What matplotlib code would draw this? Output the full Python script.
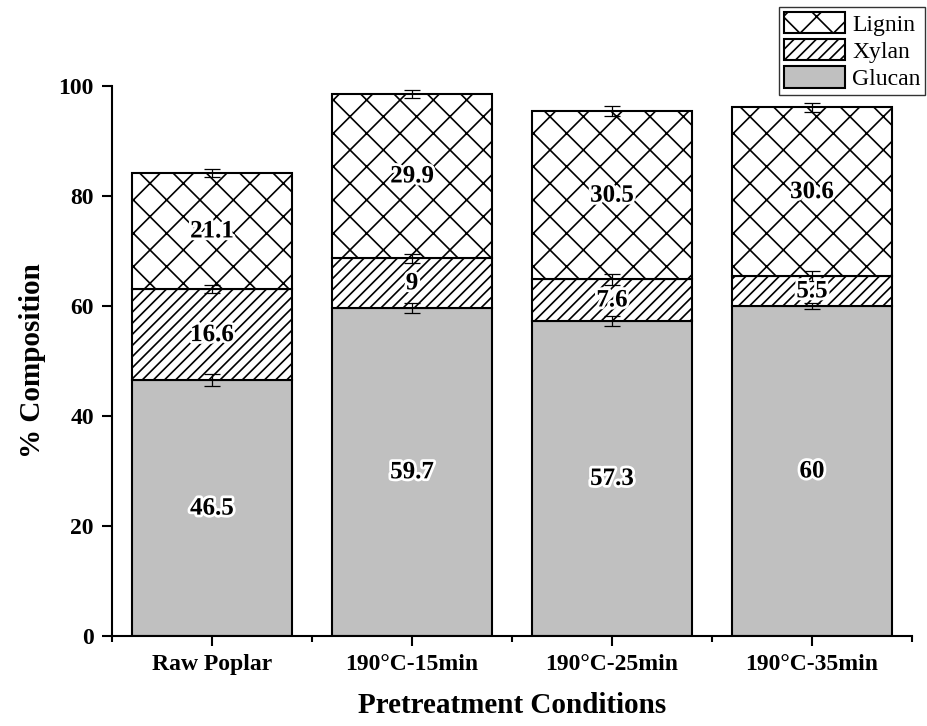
import numpy as np
import matplotlib
matplotlib.use("Agg")
import matplotlib.pyplot as plt
import matplotlib.patheffects as pe
from matplotlib.ticker import FixedLocator

plt.rcParams['font.family'] = ['Liberation Serif', 'DejaVu Serif']
plt.rcParams['hatch.linewidth'] = 1.2

# data
conditions = ['Raw Poplar', '190°C-15min', '190°C-25min', '190°C-35min']
glucan = [46.5, 59.7, 57.3, 60]
xylan = [16.6, 9, 7.6, 5.5]
lignin = [21.1, 29.9, 30.5, 30.6]
glucan_err = [1.1, 0.9, 0.9, 0.6]
xylan_err = [0.8, 0.8, 1.0, 0.9]
lignin_err = [0.7, 0.7, 0.9, 0.9]

x = np.arange(1, len(conditions) + 1)
glucan = np.array(glucan)
xylan = np.array(xylan)
lignin = np.array(lignin)

fig = plt.figure(figsize=(9.27, 7.26), dpi=100)
ax = fig.add_axes([0.1208, 0.124, 0.863, 0.7575])

w = 0.8
b1 = ax.bar(x, glucan, w, color='#c0c0c0', edgecolor='black', linewidth=1.5, label='Glucan')
b2 = ax.bar(x, xylan, w, bottom=glucan, color='white', edgecolor='black', linewidth=1.5,
            hatch='///', label='Xylan')
b3 = ax.bar(x, lignin, w, bottom=glucan + xylan, color='white', edgecolor='black', linewidth=1.5,
            hatch='x', label='Lignin')

# error bars at segment tops
for tops, err in [(glucan, glucan_err), (glucan + xylan, xylan_err), (glucan + xylan + lignin, lignin_err)]:
    ax.errorbar(x, tops, yerr=err, fmt='none', ecolor='black', elinewidth=0.9,
                capsize=6, capthick=0.9, clip_on=False, zorder=4)

# segment labels
halo = [pe.withStroke(linewidth=4, foreground='white')]
for bottoms, vals in [(np.zeros(4), glucan), (glucan, xylan), (glucan + xylan, lignin)]:
    for xi, b, v in zip(x, bottoms, vals):
        ax.text(xi, b + v / 2, f'{v:g}', ha='center', va='center', fontsize=18,
                fontweight='bold', path_effects=halo, zorder=5)

ax.set_xlim(0.5, 4.5)
ax.set_ylim(0, 100)
ax.set_xticks(x)
ax.set_xticklabels(conditions, fontsize=17, fontweight='bold')
ax.xaxis.set_minor_locator(FixedLocator(np.arange(0.5, 4.6, 1)))
ax.set_yticks([0, 20, 40, 60, 80, 100])
ax.set_yticklabels(['0', '20', '40', '60', '80', '100'], fontsize=17, fontweight='bold')
ax.tick_params(axis='both', which='major', direction='out', length=7, width=1.5, pad=6)
ax.tick_params(axis='x', which='minor', direction='out', length=4, width=1.5)
ax.spines['top'].set_visible(False)
ax.spines['right'].set_visible(False)
ax.spines['left'].set_linewidth(1.5)
ax.spines['bottom'].set_linewidth(1.5)

ax.set_xlabel('Pretreatment Conditions', fontsize=21, fontweight='bold', labelpad=12)
ax.set_ylabel('% Composition', fontsize=21, fontweight='bold', labelpad=9)

leg = fig.legend(handles=[b3, b2, b1], labels=['Lignin', 'Xylan', 'Glucan'],
                 loc='upper right', bbox_to_anchor=(0.998, 0.99), fontsize=17,
                 frameon=True, fancybox=False, edgecolor='black', handlelength=2.6,
                 handleheight=1.0, borderpad=0.2, labelspacing=0.15, handletextpad=0.3,
                 borderaxespad=0)
leg.get_frame().set_linewidth(1.0)

fig.savefig('out.png', dpi=100)
